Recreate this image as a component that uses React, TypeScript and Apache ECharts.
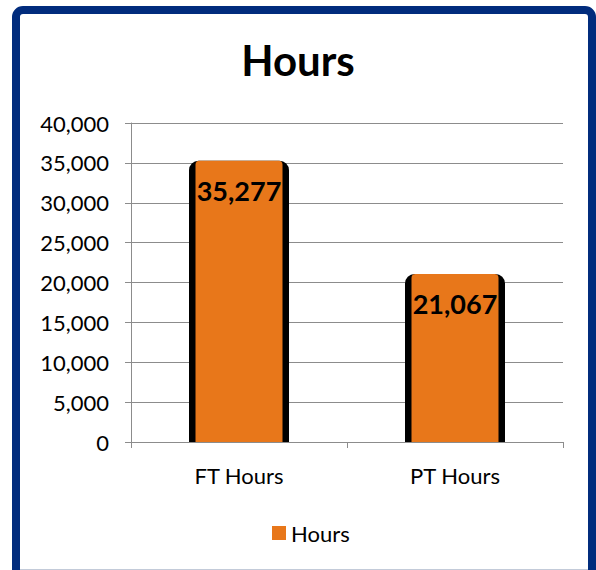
import React, { useEffect, useRef } from "react";
import * as echarts from "echarts";

const categories = ["FT Hours", "PT Hours"];
const hoursValues = [35277, 21067];
const yTicks = { min: 0, max: 40000, interval: 5000 };
const seriesName = "Hours";
const titleText = "Hours";

const FONT = "Lato, 'Liberation Sans', sans-serif";

export default function App() {
  const ref = useRef<HTMLDivElement>(null);

  useEffect(() => {
    if (!ref.current) return;
    const chart = echarts.init(ref.current, null, { renderer: "svg" });
    const axisGrey = "#8c8c8c";
    chart.setOption({
      animation: false,
      backgroundColor: "#ffffff",
      textStyle: { fontFamily: FONT },
      title: {
        text: titleText,
        left: "center",
        top: 34,
        textStyle: { fontSize: 42, fontWeight: "bold", color: "#000", fontFamily: FONT },
      },
      legend: {
        data: [seriesName],
        left: 267,
        top: 517,
        itemWidth: 14,
        itemHeight: 14,
        itemGap: 6,
        icon: "rect",
        textStyle: { fontSize: 22, color: "#000", fontFamily: FONT, padding: [0, 0, 0, 0] },
      },
      grid: { left: 131, right: 33, top: 123, bottom: 128 },
      xAxis: [
        {
          type: "category",
          data: categories,
          axisLine: { lineStyle: { color: axisGrey, width: 1 } },
          axisTick: { show: true, length: 6, lineStyle: { color: axisGrey } },
          axisLabel: { fontSize: 22, color: "#000", margin: 22, fontFamily: FONT },
        },
        {
          type: "category",
          data: categories,
          position: "bottom",
          show: false,
        },
      ],
      yAxis: {
        type: "value",
        min: yTicks.min,
        max: yTicks.max,
        interval: yTicks.interval,
        axisLine: { show: true, lineStyle: { color: axisGrey, width: 1 } },
        axisTick: { show: true, length: 6, lineStyle: { color: axisGrey } },
        splitLine: { show: true, lineStyle: { color: axisGrey, width: 1 } },
        axisLabel: {
          fontSize: 22,
          color: "#000",
          margin: 22,
          fontFamily: FONT,
          formatter: (v: number) => v.toLocaleString("en-US"),
        },
      },
      graphic: [
        {
          type: "rect",
          z: 100,
          silent: true,
          shape: { x: 16, y: 10, width: 576, height: 620, r: 7 },
          style: { fill: "none", stroke: "#012c7d", lineWidth: 8 },
        },
        {
          type: "line",
          z: 99,
          silent: true,
          shape: { x1: 20, y1: 569.5, x2: 588, y2: 569.5 },
          style: { stroke: "#c3cbd9", lineWidth: 1 },
        },
      ],
      series: [
        {
          name: "outline",
          type: "bar",
          xAxisIndex: 0,
          data: hoursValues,
          barWidth: 100,
          itemStyle: {
            color: "#000",
            borderColor: "#000",
            borderWidth: 3,
            borderRadius: [8, 8, 0, 0],
          },
          z: 2,
        },
        {
          name: seriesName,
          type: "bar",
          xAxisIndex: 1,
          data: hoursValues,
          barWidth: 87,
          itemStyle: { color: "#e8771a", borderRadius: [4, 4, 0, 0] },
          label: {
            show: true,
            position: "insideTop",
            distance: 16,
            fontSize: 27,
            fontWeight: "bold",
            color: "#000",
            fontFamily: FONT,
            formatter: (p: any) => Number(p.value).toLocaleString("en-US"),
          },
          z: 3,
        },
      ],
    });
    return () => chart.dispose();
  }, []);

  return (
    <div
      ref={ref}
      style={{ position: "fixed", left: 0, top: 0, width: 596, height: 570 }}
    />
  );
}
